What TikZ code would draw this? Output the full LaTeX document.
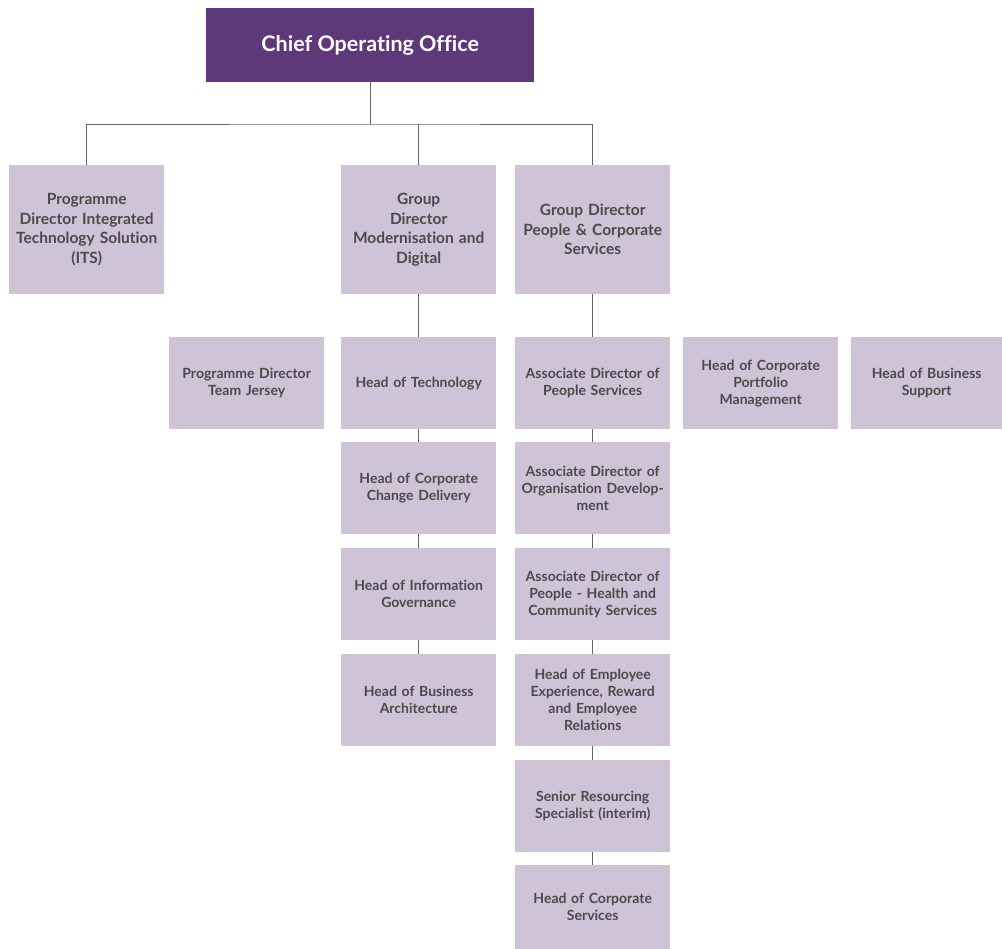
\documentclass[tikz,border=0pt]{standalone}
\usepackage{fontspec}
\setmainfont{Lato}[Ligatures=NoCommon]
\definecolor{cooPurple}{HTML}{5F3879}
\definecolor{boxLilac}{HTML}{CFC3D8}
\definecolor{boxText}{HTML}{4A4A4A}
\definecolor{lineGrey}{HTML}{666666}
\begin{document}
\begin{tikzpicture}[x=1pt, y=-1pt,
  post/.style={fill=boxLilac, text=boxText, align=center, anchor=north west,
    minimum width=155pt, minimum height=92pt, text width=151pt, inner sep=1.5pt,
    font=\bfseries\fontsize{14}{17}\selectfont},
  director/.style={post, minimum height=129pt,
    font=\bfseries\fontsize{15.5}{19.5}\selectfont},
  chief/.style={fill=cooPurple, text=white, anchor=north west,
    minimum width=328pt, minimum height=74pt, inner sep=0pt,
    font=\bfseries\fontsize{21.5}{24}\selectfont},
  link/.style={draw=lineGrey, line width=0.9pt}]
  \useasboundingbox (0,0) rectangle (1002,949);
  % top of the chart
  \node[chief] (coo) at (206,8) {Chief Operating Office};
  \node[director] (its) at (9,165) {Programme\\Director Integrated\\Technology Solution\\(ITS)};
  \node[director] (gdmd) at (341,165) {Group\\Director\\Modernisation and\\Digital};
  \node[director] (gdpcs) at (515,165) {Group Director\\People \& Corporate\\Services};
  % second row
  \node[post] (pdtj) at (169,337) {Programme Director\\Team Jersey};
  \node[post] (hcpm) at (683,337) {Head of Corporate\\Portfolio\\Management};
  \node[post, minimum width=151pt, text width=147pt] (hbs) at (851,337) {Head of Business\\Support};
  % modernisation and digital
  \node[post] (hot) at (341,337) {Head of Technology};
  \node[post] (hccd) at (341,442) {Head of Corporate\\Change Delivery};
  \node[post] (hig) at (341,548) {Head of Information\\Governance};
  \node[post] (hba) at (341,654) {Head of Business\\Architecture};
  % people and corporate services
  \node[post] (adps) at (515,337) {Associate Director of\\People Services};
  \node[post] (adod) at (515,442) {Associate Director of\\Organisation Develop-\\ment};
  \node[post] (adph) at (515,548) {Associate Director of\\People - Health and\\Community Services};
  \node[post] (hee) at (515,654) {Head of Employee\\Experience, Reward\\and Employee\\Relations};
  \node[post] (srs) at (515,760) {Senior Resourcing\\Specialist (interim)};
  \node[post, minimum height=84pt] (hcs) at (515,865) {Head of Corporate\\Services};
  % connectors
  \coordinate (split) at (coo.south |- 0,124);
  \draw[link] (coo.south) -- (split);
  \draw[link] (its.north) |- (split) -| (gdpcs.north);
  \draw[link] (gdmd.north) -- (gdmd.north |- split);
  \foreach \a/\b in {gdmd/hot, hot/hccd, hccd/hig, hig/hba,
      gdpcs/adps, adps/adod, adod/adph, adph/hee, hee/srs, srs/hcs}
    \draw[link] (\a.south) -- (\b.north);
\end{tikzpicture}
\end{document}
